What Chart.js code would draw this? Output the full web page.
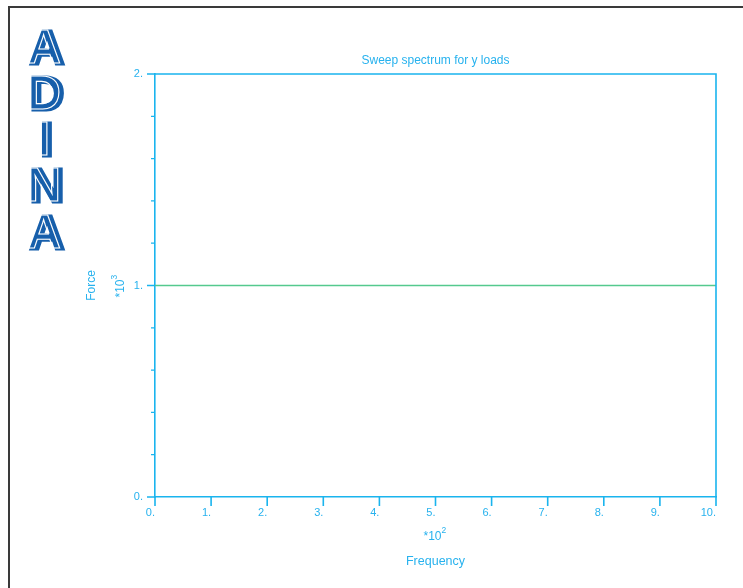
<!DOCTYPE html>
<html>
<head>
<meta charset="utf-8">
<script src="https://cdn.jsdelivr.net/npm/chart.js@4/dist/chart.umd.min.js"></script>
<style>
  html, body { margin: 0; padding: 0; background: #ffffff; }
  #wrap { width: 743px; height: 588px; }
</style>
</head>
<body>
<div id="wrap"><canvas id="c" width="743" height="588"></canvas></div>
<script>
// ---- data ----
const frequency = [0, 10];          // x values, in units of *10^2
const force = [1, 1];               // y values, in units of *10^3
const xTickValues = [0, 1, 2, 3, 4, 5, 6, 7, 8, 9, 10];
const yMajorTicks = [0, 1, 2];
const yMinorTicks = [0.2, 0.4, 0.6, 0.8, 1.2, 1.4, 1.6, 1.8];
const titleText = 'Sweep spectrum for y loads';
const xLabel = 'Frequency';
const yLabel = 'Force';
const logoLetters = ['A', 'D', 'I', 'N', 'A'];

const CYAN = '#1ab4ee';
const TEXT = '#27b2ee';
const GREEN = '#55c98e';
const FONT = '"Liberation Sans", Arial, sans-serif';

const decorPlugin = {
  id: 'decor',
  afterDraw(chart) {
    const ctx = chart.ctx;
    const a = chart.chartArea;
    const xs = chart.scales.x, ys = chart.scales.y;
    ctx.save();
    // outer dark frame
    ctx.strokeStyle = '#3a3a3a';
    ctx.lineWidth = 2;
    ctx.beginPath();
    ctx.moveTo(9, 600); ctx.lineTo(9, 7); ctx.lineTo(760, 7);
    ctx.stroke();

    // plot top and right borders
    ctx.strokeStyle = CYAN;
    ctx.lineWidth = 1.6;
    ctx.beginPath();
    ctx.moveTo(a.left, a.top); ctx.lineTo(a.right, a.top); ctx.lineTo(a.right, a.bottom);
    ctx.stroke();

    // y ticks (major long, minor short), drawn outward to the left
    ctx.beginPath();
    yMajorTicks.forEach(v => {
      const p = ys.getPixelForValue(v);
      ctx.moveTo(a.left - 8, p); ctx.lineTo(a.left, p);
    });
    ctx.stroke();
    ctx.lineWidth = 1.2;
    ctx.beginPath();
    yMinorTicks.forEach(v => {
      const p = ys.getPixelForValue(v);
      ctx.moveTo(a.left - 4, p); ctx.lineTo(a.left, p);
    });
    ctx.stroke();
    // x ticks drawn downward
    ctx.lineWidth = 1.6;
    ctx.beginPath();
    xTickValues.forEach(v => {
      const p = xs.getPixelForValue(v);
      ctx.moveTo(p, a.bottom); ctx.lineTo(p, a.bottom + 9);
    });
    ctx.stroke();

    // texts
    ctx.fillStyle = TEXT;
    ctx.textAlign = 'center';
    ctx.textBaseline = 'middle';
    const cx = (a.left + a.right) / 2;
    ctx.font = '12px ' + FONT;
    ctx.fillText(titleText, cx, 61);
    ctx.font = '12.5px ' + FONT;
    ctx.fillText(xLabel, cx, 562);
    // x exponent *10^2
    ctx.font = '12px ' + FONT;
    ctx.textAlign = 'left';
    const base = '*10';
    const bw = ctx.measureText(base).width;
    const ex = cx - (bw + 6) / 2;
    ctx.fillText(base, ex, 537);
    ctx.font = '8.5px ' + FONT;
    ctx.fillText('2', ex + bw, 531);

    // y label rotated
    ctx.save();
    ctx.translate(92, (a.top + a.bottom) / 2);
    ctx.rotate(-Math.PI / 2);
    ctx.textAlign = 'center';
    ctx.font = '12px ' + FONT;
    ctx.fillText(yLabel, 0, 0);
    ctx.restore();
    // y exponent *10^3 rotated
    ctx.save();
    ctx.translate(121, (a.top + a.bottom) / 2);
    ctx.rotate(-Math.PI / 2);
    ctx.textAlign = 'left';
    ctx.font = '12px ' + FONT;
    const bw2 = ctx.measureText(base).width;
    const ey = -(bw2 + 6) / 2;
    ctx.fillText(base, ey, 0);
    ctx.font = '8.5px ' + FONT;
    ctx.fillText('3', ey + bw2, -6);
    ctx.restore();

    // ADINA logo
    const off = document.createElement('canvas');
    off.width = 90; off.height = 260;
    const o = off.getContext('2d');
    o.font = 'bold 48px ' + FONT;
    o.textAlign = 'center';
    o.textBaseline = 'alphabetic';
    o.lineJoin = 'miter';
    const baselines = [64, 110, 156, 202, 249];
    logoLetters.forEach((ch, i) => {
      o.fillStyle = '#175fab';
      o.strokeStyle = '#175fab';
      o.lineWidth = 3;
      o.fillText(ch, 47, baselines[i]);
      o.strokeText(ch, 47, baselines[i]);
    });
    o.globalCompositeOperation = 'source-atop';
    o.strokeStyle = '#ffffff';
    o.lineWidth = 1.1;
    logoLetters.forEach((ch, i) => {
      o.strokeText(ch, 43.5, baselines[i] - 1);
    });
    ctx.drawImage(off, 0, 0);
    ctx.restore();
  }
};

new Chart(document.getElementById('c'), {
  type: 'line',
  data: {
    datasets: [{
      data: frequency.map((f, i) => ({ x: f, y: force[i] })),
      borderColor: GREEN,
      borderWidth: 1.5,
      pointRadius: 0,
      fill: false,
      tension: 0
    }]
  },
  options: {
    responsive: false,
    animation: false,
    layout: { padding: { left: 0, top: 74, right: 27, bottom: 0 } },
    plugins: { legend: { display: false }, title: { display: false }, tooltip: { enabled: false } },
    scales: {
      x: {
        type: 'linear',
        min: 0, max: 10,
        afterFit(s) { s.height = 91; },
        afterBuildTicks(s) { s.ticks = xTickValues.map(v => ({ value: v })); },
        ticks: {
          color: TEXT,
          font: { family: FONT, size: 11 },
          align: 'end',
          padding: 9,
          maxRotation: 0,
          callback: v => v + '.'
        },
        grid: { display: false, drawTicks: false },
        border: { display: true, color: CYAN, width: 1.6 }
      },
      y: {
        type: 'linear',
        min: 0, max: 2,
        afterFit(s) { s.width = 155; },
        afterBuildTicks(s) { s.ticks = yMajorTicks.map(v => ({ value: v })); },
        ticks: {
          color: TEXT,
          font: { family: FONT, size: 11 },
          padding: 12,
          callback: v => v + '.'
        },
        grid: { display: false, drawTicks: false },
        border: { display: true, color: CYAN, width: 1.6 }
      }
    }
  },
  plugins: [decorPlugin]
});
</script>
</body>
</html>
